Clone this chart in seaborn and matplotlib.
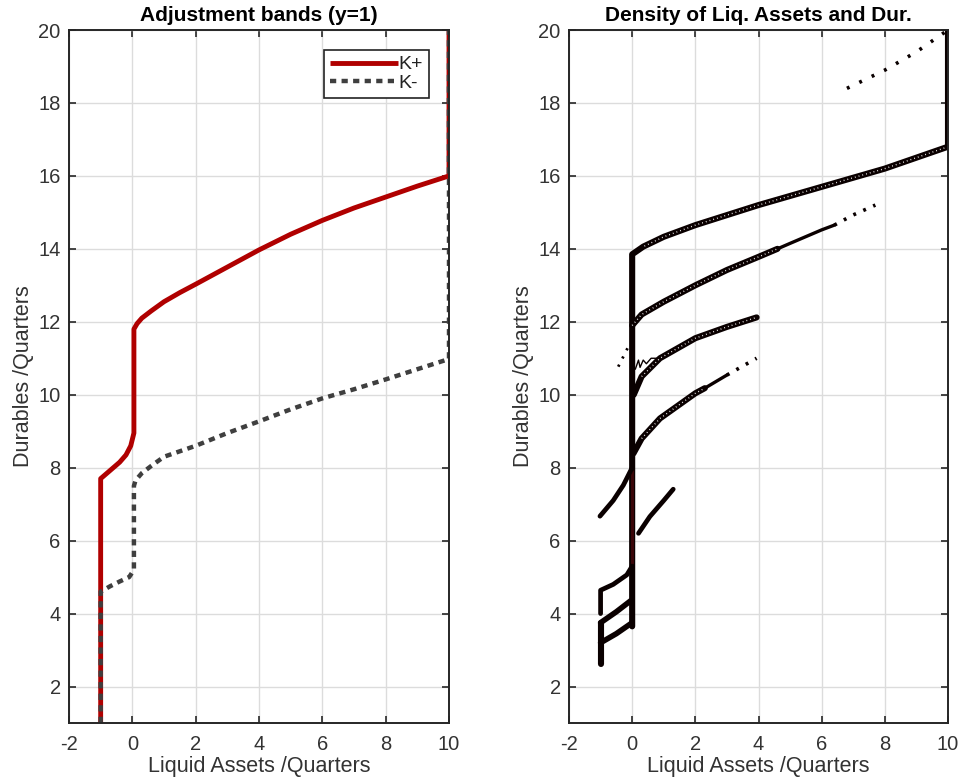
import numpy as np
import pandas as pd
import matplotlib
matplotlib.use("Agg")
import matplotlib.pyplot as plt
import seaborn as sns

# ---------------- data ----------------
# Left panel: adjustment bands
kplus_x = [-1, -1, -0.8, -0.6, -0.4, -0.2, -0.05, 0.05, 0.05, 0.15, 0.3, 0.6, 1, 1.5, 2, 3, 4, 5, 6, 7, 8, 9, 10, 10]
kplus_y = [1, 7.7, 7.85, 8.0, 8.15, 8.35, 8.6, 8.95, 11.8, 11.95, 12.1, 12.3, 12.55, 12.8, 13.03, 13.5, 13.97, 14.4, 14.78, 15.12, 15.42, 15.72, 16.0, 20]
kminus_x = [-1, -1, -0.7, -0.4, -0.1, 0.05, 0.05, 0.1, 0.3, 0.6, 1, 1.5, 2, 3, 4, 5, 6, 7, 8, 9, 10, 10]
kminus_y = [1, 4.6, 4.75, 4.88, 5.0, 5.2, 7.5, 7.65, 7.85, 8.05, 8.3, 8.45, 8.6, 8.95, 9.27, 9.6, 9.9, 10.15, 10.42, 10.7, 10.98, 20]

# Right panel: density contours (thick solid bands)
top_band_x = [10, 10, 8, 6, 4, 2, 1, 0.35, 0.0, 0.0]
top_band_y = [20, 16.8, 16.2, 15.7, 15.2, 14.65, 14.33, 14.06, 13.85, 3.65]
stem_tint_x = [0.0, 0.0]
stem_tint_y = [5.4, 7.9]
band2_x = [0.0, 0.3, 1, 2, 3, 4, 4.6]
band2_y = [11.9, 12.2, 12.55, 13.0, 13.42, 13.78, 14.0]
band2_thin_x = [4.6, 5, 6, 6.4]
band2_thin_y = [14.0, 14.15, 14.52, 14.65]
band2_dots_x = [6.4, 7, 7.7]
band2_dots_y = [14.65, 14.93, 15.2]
band3_x = [0.05, 0.3, 0.88, 2, 3, 3.94]
band3_y = [10.0, 10.5, 11.0, 11.55, 11.86, 12.12]
wiggle_x = [0.1, 0.2, 0.25, 0.35, 0.45, 0.6, 0.8, 1.0, 1.2]
wiggle_y = [10.7, 10.95, 10.75, 10.95, 10.85, 11.0, 11.0, 11.05, 11.15]
dots3_x = [-0.44, -0.12]
dots3_y = [10.77, 11.32]
band4_x = [0.04, 0.3, 0.88, 2, 2.3]
band4_y = [8.39, 8.8, 9.35, 10.04, 10.18]
band4_thin_x = [2.3, 3.0]
band4_thin_y = [10.18, 10.54]
band4_dots_x = [3.0, 3.94]
band4_dots_y = [10.54, 11.0]
branch_left_x = [-1.02, -0.6, -0.28, 0.0]
branch_left_y = [6.67, 7.1, 7.52, 8.0]
band5_x = [0.2, 0.56, 1.0, 1.3]
band5_y = [6.2, 6.66, 7.1, 7.41]
bracket_x = [-1, -1, -0.6, -0.17, 0.0]
bracket_y = [4.0, 4.64, 4.8, 5.06, 5.3]
block_top_x = [-1, -0.5, -0.05]
block_top_y = [3.75, 4.05, 4.35]
block_bot_x = [-1, -0.5, 0.0]
block_bot_y = [3.2, 3.45, 3.75]
block_side_x = [-1, -1]
block_side_y = [2.63, 3.75]
upper_dots_x = [6.8, 8.0, 9.0, 10.0]
upper_dots_y = [18.4, 18.9, 19.4, 20.0]

# axis settings
x_ticks = [-2, 0, 2, 4, 6, 8, 10]
y_ticks = [2, 4, 6, 8, 10, 12, 14, 16, 18, 20]

# ---------------- style ----------------
sns.set_theme(style="whitegrid")
plt.rcParams["font.family"] = ["Liberation Sans", "DejaVu Sans"]

RED = "#B00000"
GRAY = "#3F3F3F"
SPINE = "#262626"

fig = plt.figure(figsize=(9.61, 7.79), dpi=100)
axL = fig.add_axes([69 / 961, 1 - 723 / 779, 380 / 961, 693 / 779])
axR = fig.add_axes([569 / 961, 1 - 723 / 779, 379 / 961, 693 / 779])


def style_axes(ax, title):
    ax.set_xlim(-2, 10)
    ax.set_ylim(1, 20)
    ax.set_xticks(x_ticks)
    ax.set_yticks(y_ticks)
    ax.set_xticklabels([str(t) for t in x_ticks])
    ax.set_yticklabels([str(t) for t in y_ticks])
    ax.grid(True, color="#DCDCDC", linewidth=1.0)
    ax.set_facecolor("white")
    for s in ax.spines.values():
        s.set_color(SPINE)
        s.set_linewidth(1.4)
        s.set_visible(True)
    ax.tick_params(direction="in", length=5, width=1.2, color=SPINE,
                   top=True, right=True, bottom=True, left=True,
                   labelsize=14.5, labelcolor="#333333")
    ax.tick_params(axis="x", pad=9)
    ax.tick_params(axis="y", pad=6)
    ax.set_xlabel("Liquid Assets /Quarters", fontsize=15.5, color="#333333", labelpad=1)
    ax.set_ylabel("Durables /Quarters", fontsize=15.5, color="#333333", labelpad=3)
    ax.set_title(title, fontsize=15, fontweight="bold", color="black", pad=6.5)


def line(ax, xs, ys, **kw):
    df = pd.DataFrame({"x": xs, "y": ys})
    sns.lineplot(data=df, x="x", y="y", sort=False, estimator=None, ax=ax, **kw)


# ---------------- left panel ----------------
line(axL, kplus_x, kplus_y, color=RED, linewidth=3.5, label="K+")
line(axL, kminus_x, kminus_y, color=GRAY, linewidth=3.2, label="K-",
     dashes=(1.4, 1.2))
for l in axL.get_lines():
    l.set_solid_capstyle("butt")
    l.set_dash_capstyle("butt")
style_axes(axL, "Adjustment bands (y=1)")
leg = axL.legend(loc="upper right", bbox_to_anchor=(1 - 20 / 380, 1 - 20 / 693),
                 borderaxespad=0, fancybox=False, framealpha=1, edgecolor="#222222",
                 fontsize=14, handlelength=3.5, handletextpad=0.05,
                 labelspacing=0.05, borderpad=0.3)
leg.get_frame().set_linewidth(1.2)
for t in leg.get_texts():
    t.set_color("#222222")

# ---------------- right panel ----------------
BLK = "#0A0000"
thick = dict(color=BLK, linewidth=4.4)
line(axR, top_band_x, top_band_y, **thick)
line(axR, stem_tint_x, stem_tint_y, color="#3A0508", linewidth=2.2)
line(axR, band2_x, band2_y, **thick)
line(axR, band2_thin_x, band2_thin_y, color=BLK, linewidth=2.4)
line(axR, band2_dots_x, band2_dots_y, color=BLK, linewidth=2.6, dashes=(0.8, 2.2))
line(axR, band3_x, band3_y, **thick)
line(axR, wiggle_x, wiggle_y, color=BLK, linewidth=1.0)
line(axR, dots3_x, dots3_y, color=BLK, linewidth=2.0, dashes=(0.8, 2.5))
line(axR, band4_x, band4_y, **thick)
line(axR, band4_thin_x, band4_thin_y, color=BLK, linewidth=2.4)
line(axR, band4_dots_x, band4_dots_y, color=BLK, linewidth=2.6, dashes=(0.8, 2.2))
line(axR, branch_left_x, branch_left_y, color=BLK, linewidth=3.4)
line(axR, band5_x, band5_y, color=BLK, linewidth=3.4)
line(axR, bracket_x, bracket_y, color=BLK, linewidth=3.4)
line(axR, block_top_x, block_top_y, color=BLK, linewidth=4.0)
line(axR, block_bot_x, block_bot_y, color=BLK, linewidth=4.0)
line(axR, block_side_x, block_side_y, color=BLK, linewidth=4.4)
line(axR, upper_dots_x, upper_dots_y, color=BLK, linewidth=2.6, dashes=(0.8, 3.0))
# ring texture inside the thick bands
ring = dict(color="white", linewidth=1.0, dashes=(0.6, 2.2))
line(axR, top_band_x[1:8], top_band_y[1:8], **ring)
line(axR, band2_x, band2_y, **ring)
line(axR, band3_x[1:], band3_y[1:], **ring)
line(axR, band4_x[1:], band4_y[1:], **ring)
style_axes(axR, "Density of Liq. Assets and Dur.")
if axR.get_legend() is not None:
    axR.get_legend().remove()

fig.savefig("out.png", dpi=100, facecolor="white")
